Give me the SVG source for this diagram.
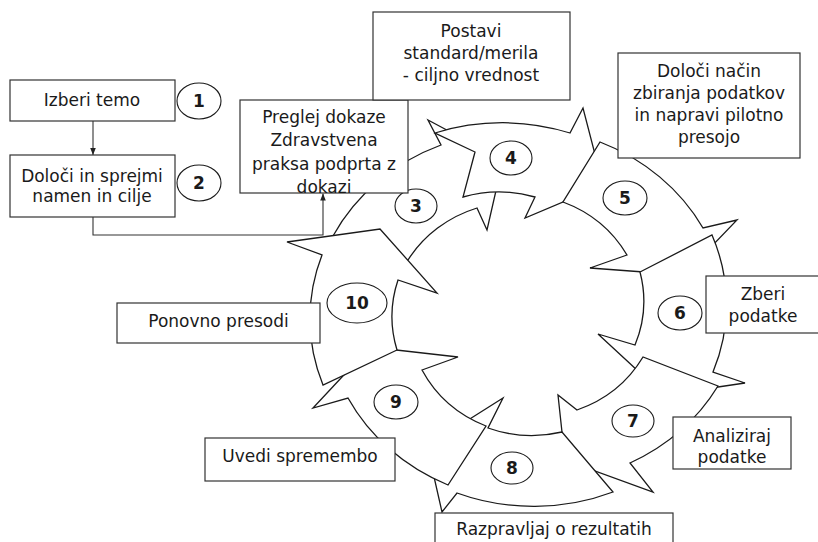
<svg xmlns="http://www.w3.org/2000/svg" width="818" height="542" viewBox="0 0 818 542">
<defs>
<style>
.arc{fill:#fff;stroke:#1a1a1a;stroke-width:1.3;stroke-linejoin:miter}
.box{fill:#fff;stroke:#333;stroke-width:1.2}
.badge{fill:#fff;stroke:#1a1a1a;stroke-width:1.1}
.t{font-family:"DejaVu Sans",Verdana,sans-serif;font-size:17px;fill:#1a1a1a;text-anchor:middle}
.n{font-family:"DejaVu Sans",Verdana,sans-serif;font-size:17px;font-weight:bold;fill:#1a1a1a;text-anchor:middle}
.conn{fill:none;stroke:#333;stroke-width:1.1}
</style>
<marker id="ah" viewBox="0 0 10 10" refX="10" refY="5" markerWidth="7" markerHeight="7" orient="auto" markerUnits="userSpaceOnUse"><path d="M0,1 L10,5 L0,9 Z" fill="#222"/></marker>
</defs>
<rect width="818" height="542" fill="#fff"/>

<g id="step3">
<path class="arc" d="M333 236 A208 190 0 0 1 441 145 L428 120 L503 160 L487 230 L477 208 A126 120 0 0 0 408 260 Z"/>
<ellipse class="badge" cx="416" cy="206" rx="21" ry="17"/><text class="n" x="416" y="212">3</text>
</g>
<g id="step4">
<path class="arc" d="M435 133 A208 190 0 0 1 570 133 L583 108 L603 185 L525 218 L535 197 A126 120 0 0 0 463 197 L475 152 Z"/>
<ellipse class="badge" cx="511" cy="158" rx="21" ry="17"/><text class="n" x="511" y="164">4</text>
</g>
<g id="step5">
<path class="arc" d="M600 142 A208 190 0 0 1 703 228 L737 220 L684 275 L590 268 L627 255 A126 120 0 0 0 563 202 Z"/>
<ellipse class="badge" cx="625" cy="198" rx="22" ry="17"/><text class="n" x="625" y="204">5</text>
</g>
<g id="step6">
<path class="arc" d="M712 235 A208 190 0 0 1 713 372 L745 383 L664 395 L598 334 L635 345 A126 120 0 0 0 640 272 Z"/>
<ellipse class="badge" cx="680" cy="313" rx="22" ry="17"/><text class="n" x="680" y="319">6</text>
</g>
<g id="step7">
<path class="arc" d="M718 386 A208 190 0 0 1 630 463 L653 492 L565 460 L558 395 L577 410 A126 120 0 0 0 643 357 Z"/>
<ellipse class="badge" cx="633" cy="421" rx="21" ry="16"/><text class="n" x="633" y="427">7</text>
</g>
<g id="step8">
<path class="arc" d="M613 492 A208 190 0 0 1 457 493 L442 512 L427 446 L503 398 L488 428 A126 120 0 0 0 562 432 Z"/>
<ellipse class="badge" cx="512" cy="468" rx="21" ry="16"/><text class="n" x="512" y="474">8</text>
</g>
<g id="step9">
<path class="arc" d="M448 485 A208 190 0 0 1 348 398 L313 408 L370 347 L458 357 L422 370 A126 120 0 0 0 486 426 Z"/>
<ellipse class="badge" cx="396" cy="402" rx="22" ry="17"/><text class="n" x="396" y="408">9</text>
</g>
<g id="step10">
<path class="arc" d="M323 385 A208 190 0 0 1 322 255 L287 242 L380 229 L437 293 L398 280 A126 120 0 0 0 397 350 Z"/>
<ellipse class="badge" cx="357" cy="303" rx="30" ry="20"/><text class="n" x="357" y="309">10</text>
</g>

<g id="connectors">
<path class="conn" d="M93 121 V155" marker-end="url(#ah)"/>
<path class="conn" d="M93 217 V235 H323 V193.5" marker-end="url(#ah)"/>
</g>

<g id="label1">
<rect class="box" x="10" y="80" width="165" height="41"/>
<text class="t" x="92" y="106">Izberi temo</text>
<ellipse class="badge" cx="199" cy="101" rx="22" ry="18"/><text class="n" x="199" y="107">1</text>
</g>
<g id="label2">
<rect class="box" x="10" y="155" width="165" height="62"/>
<text class="t" x="92" y="182">Določi in sprejmi</text>
<text class="t" x="92" y="202">namen in cilje</text>
<ellipse class="badge" cx="199" cy="183" rx="22" ry="18"/><text class="n" x="199" y="189">2</text>
</g>
<g id="label3">
<rect class="box" x="240" y="100" width="168" height="93"/>
<text class="t" x="324" y="123">Preglej dokaze</text>
<text class="t" x="324" y="146">Zdravstvena</text>
<text class="t" x="324" y="170">praksa podprta z</text>
<text class="t" x="324" y="193">dokazi</text>
</g>
<g id="label4">
<rect class="box" x="373" y="12" width="197" height="88"/>
<text class="t" x="471" y="37">Postavi</text>
<text class="t" x="471" y="59">standard/merila</text>
<text class="t" x="471" y="81">- ciljno vrednost</text>
</g>
<g id="label5">
<rect class="box" x="618" y="53" width="182" height="105"/>
<text class="t" x="709" y="77">Določi način</text>
<text class="t" x="709" y="99">zbiranja podatkov</text>
<text class="t" x="709" y="121">in napravi pilotno</text>
<text class="t" x="709" y="143">presojo</text>
</g>
<g id="label6">
<rect class="box" x="706" y="276" width="114" height="57"/>
<text class="t" x="763" y="300">Zberi</text>
<text class="t" x="763" y="322">podatke</text>
</g>
<g id="label7">
<rect class="box" x="673" y="417" width="118" height="52"/>
<text class="t" x="732" y="442">Analiziraj</text>
<text class="t" x="732" y="463">podatke</text>
</g>
<g id="label8">
<rect class="box" x="435" y="513" width="238" height="40"/>
<text class="t" x="554" y="535">Razpravljaj o rezultatih</text>
</g>
<g id="label9">
<rect class="box" x="205" y="438" width="190" height="43"/>
<text class="t" x="300" y="462">Uvedi spremembo</text>
</g>
<g id="label10">
<rect class="box" x="117" y="303" width="203" height="40"/>
<text class="t" x="218.5" y="327">Ponovno presodi</text>
</g>
</svg>
